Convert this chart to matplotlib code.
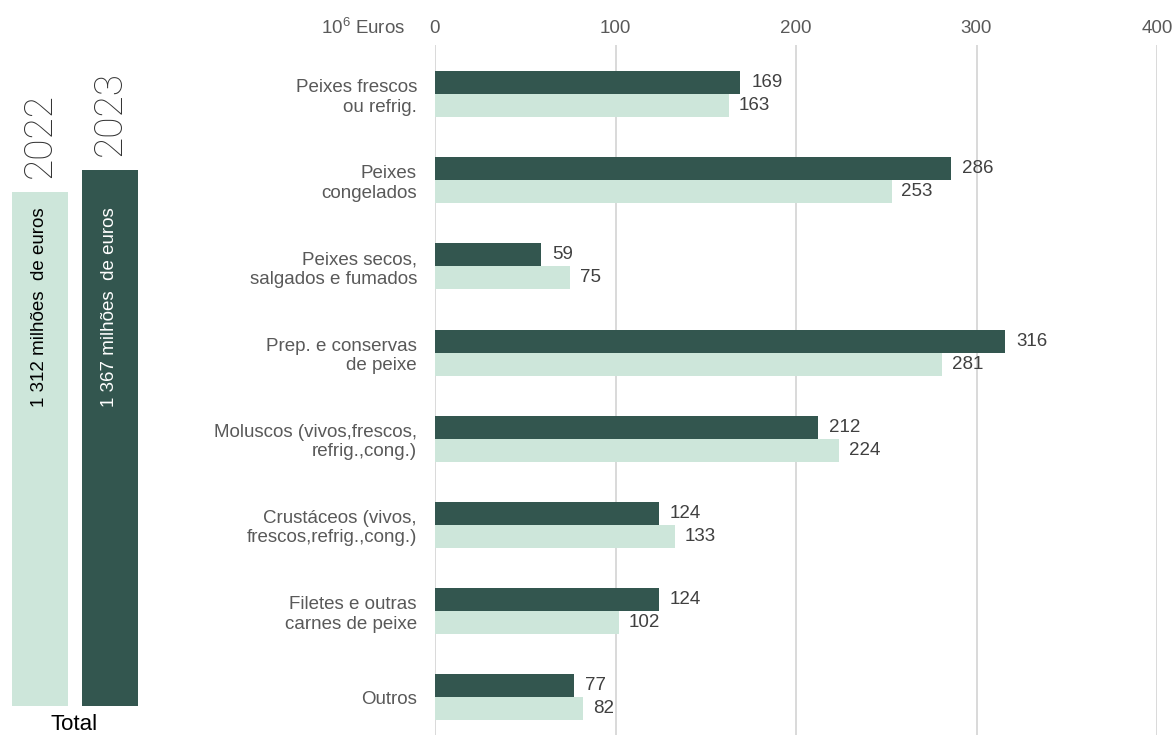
import matplotlib
matplotlib.use("Agg")
import matplotlib.pyplot as plt
import numpy as np

plt.rcParams['font.family'] = ['Liberation Sans', 'DejaVu Sans']
plt.rcParams['mathtext.fontset'] = 'custom'
plt.rcParams['mathtext.rm'] = 'Liberation Sans'

categories = ["Peixes frescos\nou refrig.", "Peixes\ncongelados", "Peixes secos,\nsalgados e fumados",
              "Prep. e conservas\nde peixe", "Moluscos (vivos,frescos,\nrefrig.,cong.)",
              "Crustáceos (vivos,\nfrescos,refrig.,cong.)", "Filetes e outras\ncarnes de peixe", "Outros"]
values_2023 = [169, 286, 59, 316, 212, 124, 124, 77]
values_2022 = [163, 253, 75, 281, 224, 133, 102, 82]
years = ["2022", "2023"]
totals = [1312, 1367]
total_labels = ["1 312 milhões  de euros", "1 367 milhões  de euros"]
xticks = [0, 100, 200, 300, 400]

DARK = "#33564F"
LIGHT = "#CDE6DA"
W, H = 1174, 735
FS = 13.5

fig = plt.figure(figsize=(W / 100, H / 100), dpi=100)

# main horizontal bar chart
ax = fig.add_axes([435 / W, 0, (1157 - 435) / W, 1 - 45 / H])
y = np.arange(len(categories))
bh = 0.267
ax.barh(y - bh / 2, values_2023, height=bh, color=DARK, zorder=3)
ax.barh(y + bh / 2, values_2022, height=bh, color=LIGHT, zorder=3)
for yi, v in zip(y, values_2023):
    ax.annotate(str(v), (v, yi - bh / 2), xytext=(8, 0), textcoords='offset points',
                va='center', ha='left', fontsize=FS, color='#404040')
for yi, v in zip(y, values_2022):
    ax.annotate(str(v), (v, yi + bh / 2), xytext=(7, 0), textcoords='offset points',
                va='center', ha='left', fontsize=FS, color='#404040')
ax.set_xlim(0, 400)
ax.set_ylim(7.44, -0.57)
ax.set_xticks(xticks)
ax.xaxis.tick_top()
ax.tick_params(axis='x', length=0, pad=6, labelsize=FS, labelcolor='#595959')
ax.set_yticks(y)
ax.set_yticklabels(categories)
ax.tick_params(axis='y', length=0, pad=13, labelsize=FS, labelcolor='#595959')
ax.grid(axis='x', color='#d9d9d9', linewidth=1.4, zorder=0)
for s in ax.spines.values():
    s.set_visible(False)
fig.text(405 / W, 1 - 28 / H, r'$\mathregular{10^6}$ Euros', ha='right', va='center',
         fontsize=FS, color='#595959')

# left total panel
axl = fig.add_axes([0, 29 / H, 150 / W, (706 - 60) / H])
axl.set_xlim(0, 150)
axl.set_ylim(0, 1648)
xs = [40, 110]
cols = [LIGHT, DARK]
tcols = ['black', 'white']
axl.bar(xs, totals, width=56, color=cols)
for xi, t, yr, lab, tc in zip(xs, totals, years, total_labels, tcols):
    axl.annotate(yr, (xi, t), xytext=(0, 10), textcoords='offset points', rotation=90,
                 ha='center', va='bottom', fontsize=28, color='#333333',
                 family=['Roboto', 'Liberation Sans'], fontweight='light')
    axl.annotate(lab, (xi, 0), xycoords='data', xytext=(xi, (706 - 207) / 0.392),
                 textcoords='data', rotation=90, ha='center', va='top', fontsize=FS, color=tc)
axl.axis('off')
fig.text(74 / W, 1 - 724 / H, "Total", ha='center', va='center', fontsize=16, color='black')

fig.savefig("out.png", dpi=100)
